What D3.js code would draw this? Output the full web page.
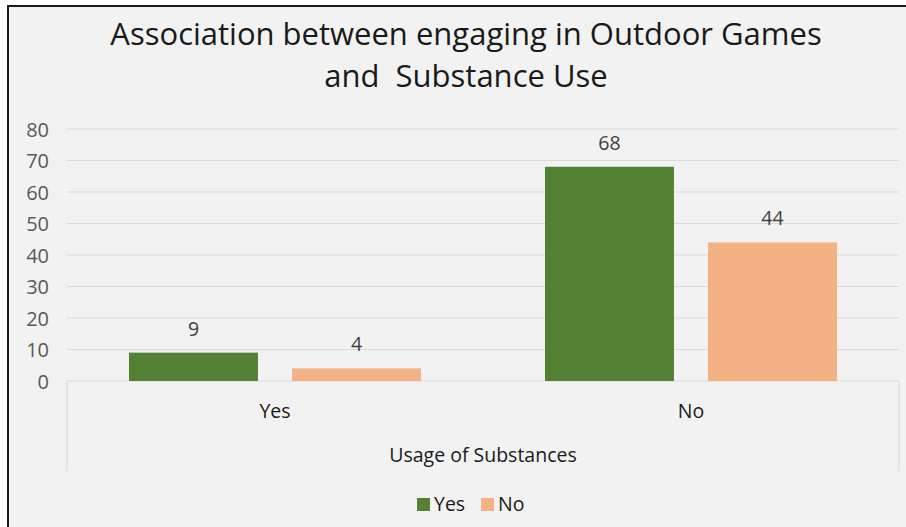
<!DOCTYPE html>
<html>
<head>
<meta charset="utf-8">
<script src="https://cdn.jsdelivr.net/npm/d3@7"></script>
<style>
  html, body { margin: 0; padding: 0; background: #ffffff; }
  svg { display: block; }
  text { font-family: "Open Sans", Lato, sans-serif; }
</style>
</head>
<body>
<svg id="chart" width="906" height="527"></svg>
<script>
// Chart data
const categories = ["Yes", "No"];
const seriesNames = ["Yes", "No"];
const yesValues = [9, 68];
const noValues = [4, 44];
const yTickValues = [0, 10, 20, 30, 40, 50, 60, 70, 80];
const titleLines = ["Association between engaging in Outdoor Games", "and  Substance Use"];
const axisTitle = "Usage of Substances";

const colors = { Yes: "#548235", No: "#F4B183" };

const W = 906, H = 527;
const plot = { left: 67, right: 899, top: 129, bottom: 381 };
const labelSize = "19.5px";

const svg = d3.select("#chart");

// Chart area with its frame
svg.append("rect")
  .attr("x", 8).attr("y", 6)
  .attr("width", W + 10).attr("height", H + 10)
  .attr("fill", "#F2F2F2")
  .attr("stroke", "#1a1a1a")
  .attr("stroke-width", 2);

// Title
const title = svg.append("text")
  .attr("text-anchor", "middle")
  .attr("fill", "#1a1a1a")
  .style("font-size", "31px")
  .style("white-space", "pre");
title.selectAll("tspan").data(titleLines).join("tspan")
  .attr("x", 466)
  .attr("y", (d, i) => 45 + i * 42)
  .text(d => d);

// Scales
const y = d3.scaleLinear().domain([0, 80]).range([plot.bottom, plot.top]);
const x0 = d3.scaleBand().domain(categories).range([plot.left, plot.right]).padding(0);
const x1 = d3.scaleBand().domain(seriesNames).range([62, 354]).paddingInner(0.209).paddingOuter(0);

// Gridlines
svg.append("g")
  .selectAll("line").data(yTickValues.filter(v => v > 0)).join("line")
  .attr("x1", plot.left).attr("x2", plot.right)
  .attr("y1", d => y(d)).attr("y2", d => y(d))
  .attr("stroke", "#D9D9D9").attr("stroke-width", 1);

// Value axis labels
const yAxis = d3.axisLeft(y).tickValues(yTickValues).tickSize(0).tickPadding(0);
const yG = svg.append("g").attr("transform", `translate(49,0)`).call(yAxis);
yG.select(".domain").remove();
yG.selectAll("text")
  .attr("fill", "#595959")
  .style("font-size", "20px")
  .style("font-family", "'Open Sans', Lato, sans-serif")
  .attr("dy", "0.35em");

// Category axis line and outer tick lines
svg.append("line")
  .attr("x1", plot.left).attr("x2", plot.right)
  .attr("y1", plot.bottom).attr("y2", plot.bottom)
  .attr("stroke", "#D9D9D9").attr("stroke-width", 1);
svg.append("g").selectAll("line").data([plot.left, plot.right]).join("line")
  .attr("x1", d => d).attr("x2", d => d)
  .attr("y1", plot.bottom).attr("y2", 471)
  .attr("stroke", "#D9D9D9").attr("stroke-width", 1);

// Bars grouped by category
const rows = categories.map((c, i) => ({ category: c, values: [
  { series: "Yes", value: yesValues[i] },
  { series: "No", value: noValues[i] }
]}));

const groups = svg.append("g").selectAll("g").data(rows).join("g")
  .attr("transform", d => `translate(${x0(d.category)},0)`);

groups.selectAll("rect").data(d => d.values).join("rect")
  .attr("x", d => x1(d.series))
  .attr("y", d => y(d.value))
  .attr("width", x1.bandwidth())
  .attr("height", d => y(0) - y(d.value))
  .attr("fill", d => colors[d.series]);

// Data labels
groups.selectAll("text.val").data(d => d.values).join("text")
  .attr("class", "val")
  .attr("x", d => x1(d.series) + x1.bandwidth() / 2)
  .attr("y", d => y(d.value) - 17)
  .attr("text-anchor", "middle")
  .attr("fill", "#404040")
  .style("font-size", labelSize)
  .text(d => d.value);

// Category labels
svg.append("g").selectAll("text").data(categories).join("text")
  .attr("x", d => x0(d) + x0.bandwidth() / 2)
  .attr("y", 418)
  .attr("text-anchor", "middle")
  .attr("fill", "#1a1a1a")
  .style("font-size", labelSize)
  .text(d => d);

// Axis title
svg.append("text")
  .attr("x", (plot.left + plot.right) / 2)
  .attr("y", 462)
  .attr("text-anchor", "middle")
  .attr("fill", "#1a1a1a")
  .style("font-size", labelSize)
  .text(axisTitle);

// Legend
const legendItems = [
  { name: seriesNames[0], x: 417 },
  { name: seriesNames[1], x: 481 }
];
const lg = svg.append("g").selectAll("g").data(legendItems).join("g")
  .attr("transform", d => `translate(${d.x},498)`);
lg.append("rect")
  .attr("width", 13).attr("height", 13)
  .attr("fill", d => colors[d.name]);
lg.append("text")
  .attr("x", 17).attr("y", 13)
  .attr("fill", "#1a1a1a")
  .style("font-size", labelSize)
  .text(d => d.name);
</script>
</body>
</html>
